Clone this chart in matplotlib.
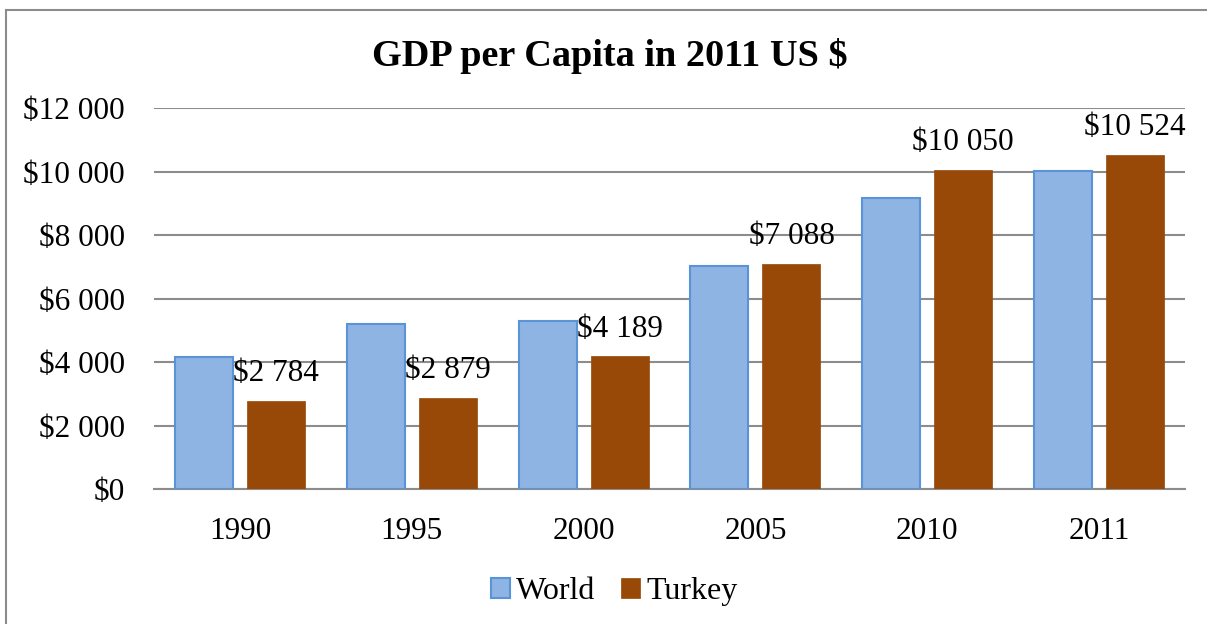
import matplotlib
matplotlib.use("Agg")
import matplotlib.pyplot as plt
import numpy as np
from matplotlib.ticker import FuncFormatter
from matplotlib.lines import Line2D

plt.rcParams["font.family"] = ["Liberation Serif", "DejaVu Serif"]

years  = ["1990", "1995", "2000", "2005", "2010", "2011"]
world  = [4150, 5210, 5290, 7030, 9160, 10030]
turkey = [2784, 2879, 4189, 7088, 10050, 10524]

WORLD_FILL  = "#8EB4E3"
WORLD_EDGE  = "#5B93D8"
TURKEY_FILL = "#984807"
GRID        = "#8C8C8C"


def money(v, _pos=None):
    return "$" + f"{int(v):,}".replace(",", " ")


fig = plt.figure(figsize=(12.07, 6.24), dpi=100)
ax = fig.add_axes([0.1276, 0.2163, 0.8542, 0.6106])

# chart frame (left and top edges only are visible in the source)
fx, fy = 5.5 / 1207, 1 - 9.5 / 624
fig.lines.append(Line2D([fx, fx], [0, fy], transform=fig.transFigure,
                        color=GRID, lw=1.5))
fig.lines.append(Line2D([fx, 1], [fy, fy], transform=fig.transFigure,
                        color=GRID, lw=1.5))

x = np.arange(len(years))
w = 0.337
off = (w + 0.082) / 2

ax.bar(x - off, world, w, color=WORLD_FILL, edgecolor=WORLD_EDGE, lw=1.5,
       label="World", zorder=3)
bars = ax.bar(x + off, turkey, w, color=TURKEY_FILL, edgecolor=TURKEY_FILL,
              lw=0.5, label="Turkey", zorder=3)

for b, v in zip(bars, turkey):
    ax.annotate(money(v), (b.get_x() + b.get_width() / 2, v),
                xytext=(0, 9), textcoords="offset points",
                ha="center", va="bottom", fontsize=22.5, zorder=4)

ax.set_xlim(-0.5, len(years) - 0.5)
ax.set_ylim(0, 12000)
ax.set_yticks(range(0, 12001, 2000))
ax.yaxis.set_major_formatter(FuncFormatter(money))
ax.set_xticks(x)
ax.set_xticklabels(years)
ax.tick_params(axis="both", length=0, labelsize=22.5)
ax.tick_params(axis="y", pad=21)
ax.tick_params(axis="x", pad=20)
ax.grid(axis="y", color=GRID, lw=1.5, zorder=0)
for s in ["top", "right", "left"]:
    ax.spines[s].set_visible(False)
ax.spines["bottom"].set_color(GRID)
ax.spines["bottom"].set_linewidth(1.5)

fig.text(0.505, 0.910, "GDP per Capita in 2011 US $", ha="center",
         va="center", fontsize=27.5, fontweight="bold")

fig.legend(loc="center", bbox_to_anchor=(0.509, 0.052), ncol=2, frameon=False,
           fontsize=23, handlelength=0.6, handleheight=0.6,
           handletextpad=0.2, columnspacing=0.8)

fig.savefig("out.png", dpi=100)
